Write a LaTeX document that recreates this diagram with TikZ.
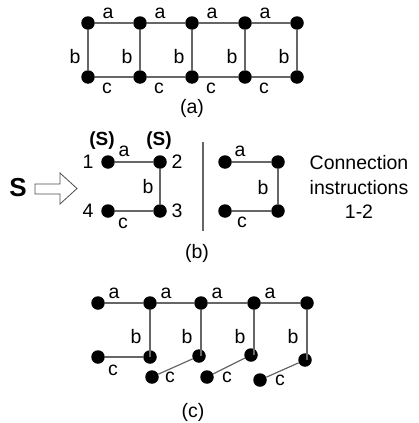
\documentclass[tikz,border=0pt]{standalone}
\usepackage{fontspec}
\setmainfont{Liberation Sans}
\usetikzlibrary{calc}

\begin{document}
\begin{tikzpicture}[x=1pt,y=-1pt,
  dot/.style={circle,fill=black,inner sep=0pt,minimum size=13.5pt},
  edge/.style={draw=black!60,line width=1.2pt},
  lbl/.style={font=\fontsize{19.5}{22}\selectfont,inner sep=0pt}]

\useasboundingbox (0,0) rectangle (419,423);

% (a) ladder
\foreach \i/\x in {1/88,2/140,3/192,4/245,5/297} {
  \node[dot] (ta\i) at (\x,23) {};
  \node[dot] (ba\i) at (\x,77) {};
  \node[lbl] (lb\i) at (\x-13,57) {b};
  \draw[edge] (ta\i) -- (ba\i);
}
\foreach \i/\j in {1/2,2/3,3/4,4/5} {
  \draw[edge] (ta\i) -- (ta\j);
  \draw[edge] (ba\i) -- (ba\j);
  \node[lbl] (la\i) at ($(ta\i)+(20,-10)$) {a};
  \node[lbl] (lc\i) at ($(ba\i)+(19,11)$) {c};
}
\node[lbl] (capa) at (192,108) {(a)};

% (b) step
\node[font=\fontsize{26}{26}\selectfont\bfseries,inner sep=0pt] (bigs) at (18,188) {S};
\draw[black!70,line width=0.8pt] (35,184) -- (60,184) -- (60,173) -- (77,188.5)
  -- (60,204) -- (60,194) -- (35,194) -- cycle;

\node[dot] (n1) at (108,162) {};
\node[dot] (n2) at (160,162) {};
\node[dot] (n3) at (160,211) {};
\node[dot] (n4) at (108,211) {};
\draw[edge] (n1) -- (n2) -- (n3) -- (n4);
\node[lbl] (k1) at (88,162) {1};
\node[lbl] (k2) at (177,162) {2};
\node[lbl] (k3) at (177,211) {3};
\node[lbl] (k4) at (88,211) {4};
\node[lbl,font=\fontsize{19}{22}\selectfont\bfseries] (s1) at (102,141) {(S)};
\node[lbl,font=\fontsize{19}{22}\selectfont\bfseries] (s2) at (159,141) {(S)};
\node[lbl] (na) at (124,151) {a};
\node[lbl] (nb) at (148,187) {b};
\node[lbl] (nc) at (123,223) {c};

\coordinate (bartop) at (203,142);
\coordinate (barbot) at (203,231);
\draw[black!60,line width=1.5pt] (bartop) -- (barbot);

\node[dot] (m1) at (225,162) {};
\node[dot] (m2) at (278,162) {};
\node[dot] (m3) at (278,211) {};
\node[dot] (m4) at (225,211) {};
\draw[edge] (m1) -- (m2) -- (m3);
\draw[edge] (m4) -- (m3);
\node[lbl] (ma) at (240,151) {a};
\node[lbl] (mb) at (263,188) {b};
\node[lbl] (mc) at (242,222) {c};

\node[lbl,align=center,font=\fontsize{19.5}{24.5}\selectfont] (instr) at (359,187)
  {Connection\\instructions\\1-2};
\node[lbl] (capb) at (197,253) {(b)};

% (c) result
\foreach \i/\x in {1/98,2/150,3/201,4/254,5/307}
  \node[dot] (tc\i) at (\x,303) {};
\foreach \i/\j in {1/2,2/3,3/4,4/5} {
  \draw[edge] (tc\i) -- (tc\j);
  \node[lbl] (ca\i) at ($(tc\i)+(16,-10)$) {a};
}
\node[dot] (bc2) at (150,357) {};
\node[dot] (bc3) at (199,356) {};
\node[dot] (bc4) at (251,355) {};
\node[dot] (bc5) at (305,360) {};
\node[dot] (ec1) at (98,357) {};
\node[dot] (ec2) at (152,377) {};
\node[dot] (ec3) at (207,377) {};
\node[dot] (ec4) at (260,380) {};
\foreach \i in {2,...,5} {
  \draw[edge] (tc\i) -- (tc\i |- bc\i);
  \node[lbl] (cb\i) at ($(tc\i)+(-14,34)$) {b};
}
\draw[edge] (ec1) -- (bc2);
\draw[edge] (ec2) -- (bc3);
\draw[edge] (ec3) -- (bc4);
\draw[edge] (ec4) -- (bc5);
\node[lbl] (cc1) at (113,370) {c};
\node[lbl] (cc2) at (170,377) {c};
\node[lbl] (cc3) at (227,377) {c};
\node[lbl] (cc4) at (280,380) {c};
\node[lbl] (capc) at (193,412) {(c)};

\end{tikzpicture}
\end{document}
